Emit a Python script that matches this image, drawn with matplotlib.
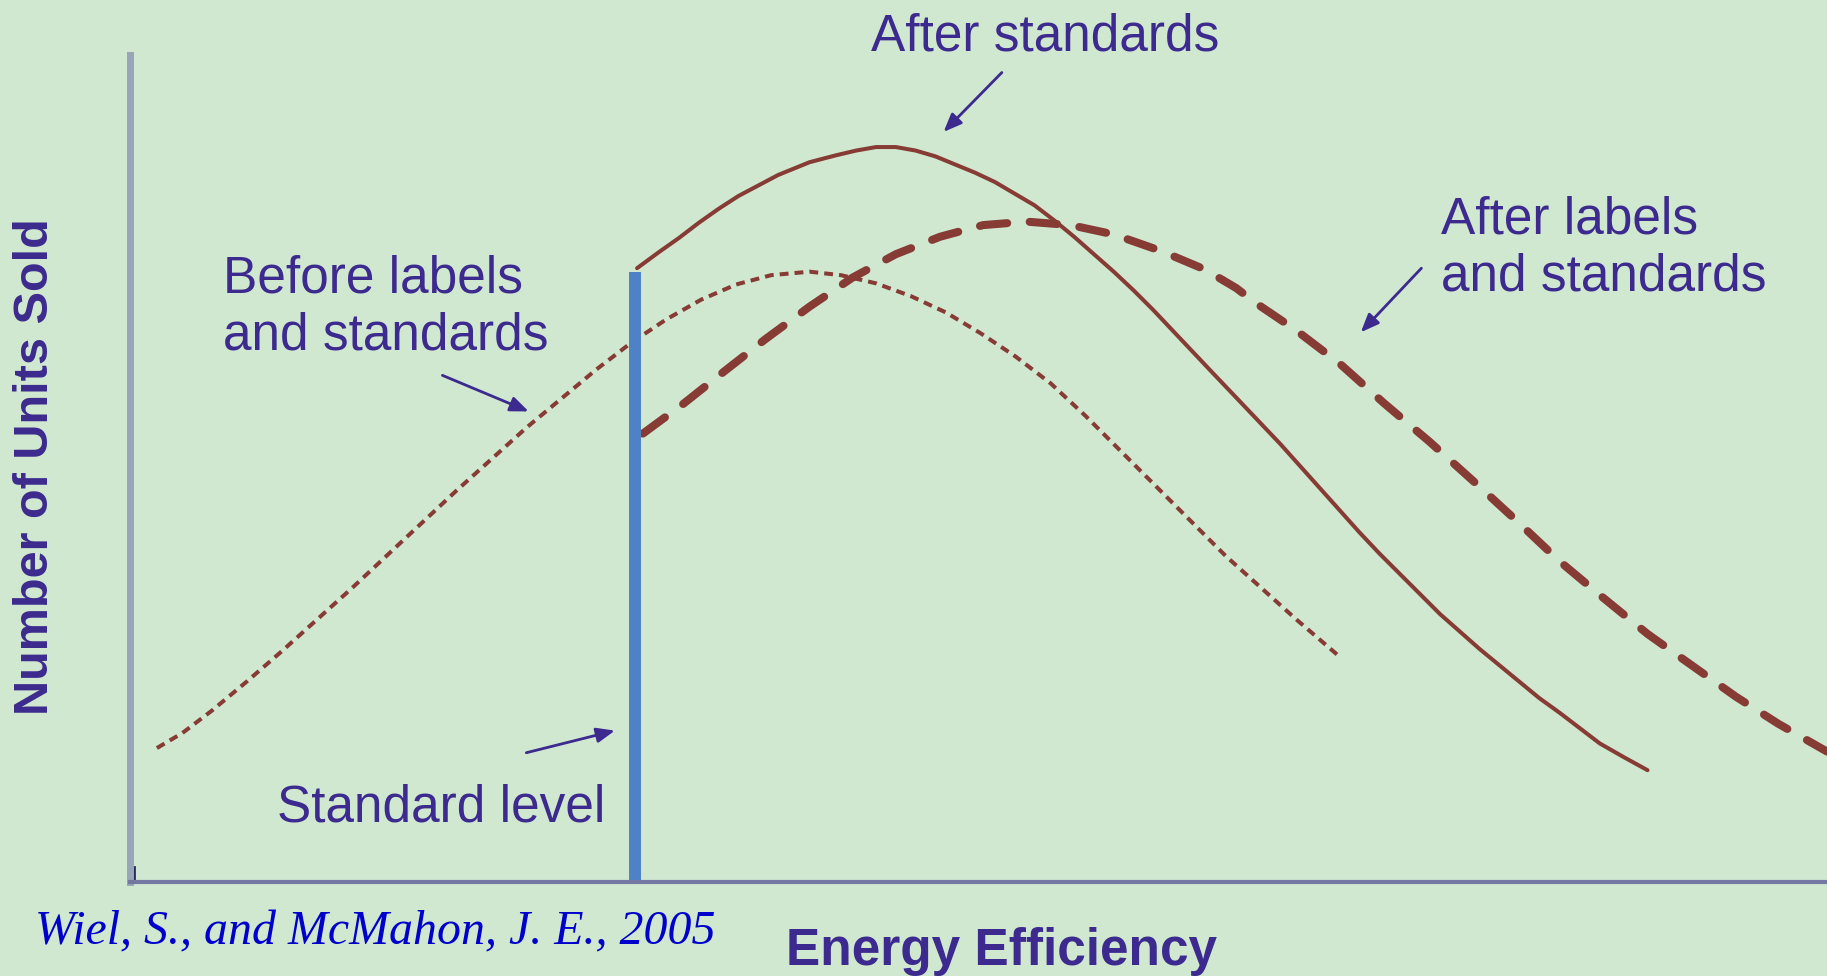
import matplotlib.pyplot as plt

# curves (x = energy efficiency, y = units sold, arbitrary units)
before_x = [23, 45, 70, 100, 130, 160, 190, 220, 250, 280, 310, 340, 370, 400, 430,
            460, 490, 520, 550, 583, 610, 640, 670, 700, 730, 760, 790, 820, 850,
            880, 910, 940, 970, 1000, 1036]
before_y = [115, 128, 147, 172, 198, 225, 252, 280, 308, 336, 363, 390, 415, 440, 463,
            483, 500, 513, 521, 524, 521, 514, 503, 489, 471, 451, 428, 400, 370,
            340, 310, 280, 253, 226, 195]

after_std_x = [435, 454, 471, 488, 505, 522, 539, 556, 583, 606, 623, 640, 657, 674,
               691, 708, 725, 742, 759, 776, 793, 810, 827, 844, 861, 878, 895, 912,
               929, 949, 968, 987, 1004, 1021, 1038, 1055, 1072, 1090, 1107, 1124,
               1141, 1158, 1175, 1192, 1209, 1227, 1244, 1261, 1282, 1302]
after_std_y = [527, 541, 553, 566, 578, 589, 598, 607, 618, 624, 628, 631, 631, 628,
               623, 616, 609, 601, 591, 581, 568, 554, 539, 524, 508, 491, 473, 455,
               437, 416, 396, 376, 357, 338, 319, 300, 282, 264, 247, 230, 215, 200,
               186, 172, 158, 145, 132, 119, 107, 96]

after_lab_x = [440, 474, 508, 545, 583, 620, 657, 695, 732, 769, 807, 844, 884, 922,
               949, 966, 1000, 1038, 1076, 1115, 1155, 1192, 1227, 1264, 1302, 1340,
               1378, 1414, 1456]
after_lab_y = [385, 410, 437, 466, 494, 519, 539, 554, 564, 567, 564, 556, 542, 526,
               510, 497, 474, 445, 411, 378, 342, 308, 275, 244, 213, 186, 159, 136, 112]

standard_level = 433
standard_top = 524

bg = '#D1E8D0'
curve_col = '#873B35'
text_col = '#3C2A8E'
blue = '#4F81C6'

fig = plt.figure(figsize=(18.27, 9.76), dpi=100, facecolor=bg)
ax = fig.add_axes([0.0712, 0.0963, 0.9288, 0.8473])
ax.set_facecolor(bg)
ax.set_xlim(0, 1456)
ax.set_ylim(0, 710)
ax.set_xticks([])
ax.set_yticks([])
ax.spines['top'].set_visible(False)
ax.spines['right'].set_visible(False)
ax.spines['left'].set_color('#98A5B6')
ax.spines['left'].set_linewidth(5)
ax.spines['bottom'].set_color('#7377A2')
ax.spines['bottom'].set_linewidth(3)
# little dark tick at the origin
ax.axvline(3, 0, 0.018, color='#2E2766', lw=2)

# curves
ax.plot(before_x, before_y, color=curve_col, lw=2.9, linestyle=(0, (2.2, 1.5)),
        solid_joinstyle='round')
ax.plot(after_std_x, after_std_y, color=curve_col, lw=2.9, solid_capstyle='round',
        solid_joinstyle='round')
ax.plot(after_lab_x, after_lab_y, color=curve_col, lw=5.8, linestyle=(0, (3.4, 2.8)),
        dash_capstyle='round', dash_joinstyle='round')

# standard level
ax.vlines(standard_level, 0, standard_top, color=blue, lw=8.6)

font = 'Liberation Sans'
fs = 37

def label(x, y, s):
    ax.text(x, y, s, fontsize=fs, color=text_col, family=font, ha='left',
            va='baseline', clip_on=False)

label(636, 714, 'After standards')
label(80, 506, 'Before labels')
label(80, 457, 'and standards')
label(1125, 557, 'After labels')
label(1125, 508, 'and standards')
label(126, 52, 'Standard level')

arrow = dict(arrowstyle='-|>,head_length=1.1,head_width=0.45', color=text_col, lw=2,
             shrinkA=0, shrinkB=0)
ax.annotate('', xy=(698, 644), xytext=(748, 695), arrowprops=arrow, annotation_clip=False)
ax.annotate('', xy=(342, 404), xytext=(268, 435), arrowprops=arrow)
ax.annotate('', xy=(1056, 472), xytext=(1108, 527), arrowprops=arrow)
ax.annotate('', xy=(416, 130), xytext=(340, 111), arrowprops=arrow)

fig.text(0.0197, 0.5215, 'Number of Units Sold', rotation=90, fontsize=35,
         fontweight='bold', color=text_col, family=font, ha='center', va='center')
fig.text(0.548, 0.0113, 'Energy Efficiency', fontsize=37, fontweight='bold',
         color=text_col, family=font, ha='center', va='baseline')
fig.text(0.0192, 0.0328, 'Wiel, S., and McMahon, J. E., 2005', fontsize=34.5,
         style='italic', color='#0000CC', family='Liberation Serif', ha='left',
         va='baseline')

fig.savefig('out.png', dpi=100, facecolor=bg)
